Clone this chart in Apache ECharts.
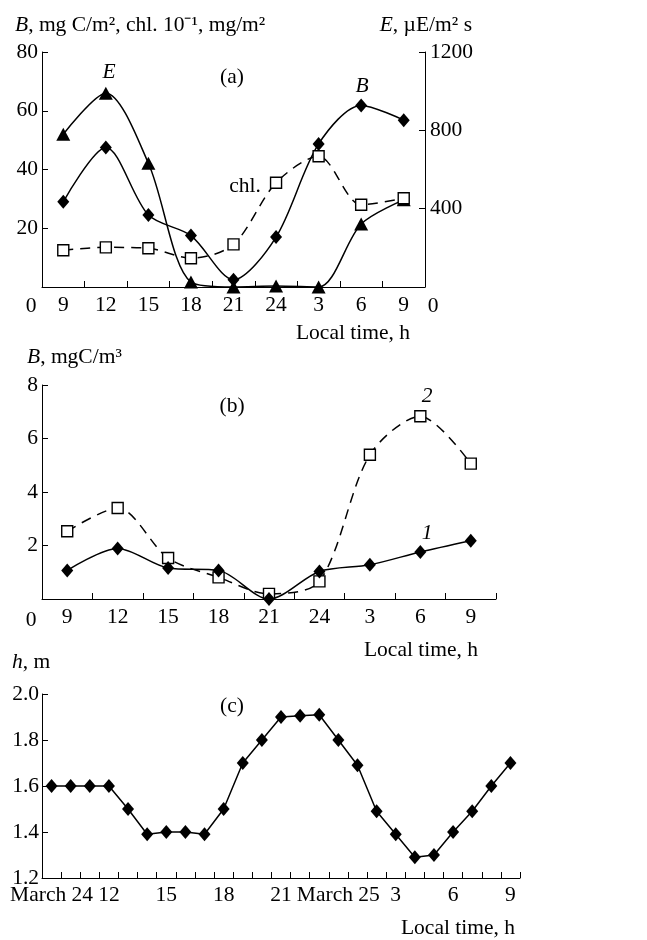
<!DOCTYPE html>
<html><head><meta charset="utf-8">
<script src="https://cdn.jsdelivr.net/npm/echarts@6/dist/echarts.min.js"></script>
<style>html,body{margin:0;padding:0;background:#fff}#c{width:647px;height:940px}</style>
</head><body><div id="c"></div>
<script>
// Panel (a)
const timesA = ['9','12','15','18','21','24','3','6','9'];
const biomassA = [29, 47.5, 24.5, 17.5, 2.5, 17, 48.7, 61.8, 56.8];
const lightA = [780, 990, 632, 25, 0, 5, 0, 322, 445];
const chlA = [12.5, 13.5, 13.2, 9.8, 14.5, 35.5, 44.5, 28, 30.2];
const yTicksA = [0, 20, 40, 60, 80];
const yTicksARight = [0, 400, 800, 1200];
// Panel (b)
const timesB = ['9','12','15','18','21','24','3','6','9'];
const biomass1B = [1.07, 1.89, 1.16, 1.07, 0, 1.03, 1.28, 1.76, 2.18];
const biomass2B = [2.53, 3.4, 1.53, 0.81, 0.19, 0.66, 5.39, 6.83, 5.06];
const yTicksB = [0, 2, 4, 6, 8];
// Panel (c)
const hoursC = ['9','10','11','12','13','14','15','16','17','18','19','20','21','22','23','24','1','2','3','4','5','6','7','8','9'];
const levelC = [1.6,1.6,1.6,1.6,1.5,1.39,1.4,1.4,1.39,1.5,1.7,1.8,1.9,1.905,1.91,1.8,1.69,1.49,1.39,1.29,1.3,1.4,1.49,1.6,1.7];
const tickLabelsC = ['March 24','12','15','18','21','March 25','3','6','9'];
const yTicksC = [1.2, 1.4, 1.6, 1.8, 2.0];

const FF = '"Liberation Serif", "Times New Roman", serif';
const FS = 21.5;
const black = '#000';

const chart = echarts.init(document.getElementById('c'), null, {renderer: 'canvas'});

const axisLineStyle = {show: true, lineStyle: {color: black, width: 1}};
const labelStyle = {color: black, fontFamily: FF, fontSize: FS};

function catAxis(gridIndex, data, extra) {
  return Object.assign({
    type: 'category', gridIndex, data: data.map((d, i) => String(i)), boundaryGap: true,
    axisLine: axisLineStyle,
    axisTick: {show: true, inside: true, length: 6, interval: 0, lineStyle: {color: black}},
    axisLabel: Object.assign({}, labelStyle, {interval: 0, margin: 7, formatter: (v, i) => data[i]}),
    splitLine: {show: false}
  }, extra || {});
}
function valAxis(gridIndex, ticks, extra) {
  return Object.assign({
    type: 'value', gridIndex, min: ticks[0], max: ticks[ticks.length - 1],
    interval: ticks[1] - ticks[0],
    axisLine: axisLineStyle,
    axisTick: {show: true, inside: true, length: 6, lineStyle: {color: black}},
    axisLabel: Object.assign({}, labelStyle, {margin: 4, formatter: v => (v === 0 ? '' : String(v))}),
    splitLine: {show: false}
  }, extra || {});
}

const diamond = {symbol: 'diamond', symbolSize: [12, 14], showAllSymbol: true, itemStyle: {color: black}};
const tri = {symbol: 'triangle', symbolSize: [14, 13], showAllSymbol: true, itemStyle: {color: black}};
const square = {symbol: 'rect', symbolSize: 11, showAllSymbol: true, itemStyle: {color: '#fff', borderColor: black, borderWidth: 1.4}};

function txt(x, y, text, align) {
  return {
    type: 'text', x, y, z: 100,
    style: {text, align: align || 'left', verticalAlign: 'middle', fill: black, fontFamily: FF, fontSize: FS}
  };
}
function rich(x, y, text, align) {
  return {
    type: 'text', x, y, z: 100,
    style: {text, align: align || 'left', verticalAlign: 'middle', fill: black,
      fontFamily: FF, fontSize: FS,
      rich: {
        i: {fontStyle: 'italic', fontFamily: FF, fontSize: FS, fill: black},
        n: {fontFamily: FF, fontSize: FS, fill: black}
      }}
  };
}

const option = {
  animation: false,
  backgroundColor: '#fff',
  grid: [
    {left: 42, top: 52, width: 383, height: 235},
    {left: 42, top: 385, width: 454, height: 214},
    {left: 42, top: 694, width: 478, height: 184}
  ],
  xAxis: [
    catAxis(0, timesA),
    catAxis(1, timesB),
    catAxis(2, hoursC, {
      axisLabel: Object.assign({}, labelStyle, {interval: 2, margin: 6, formatter: (v, i) => tickLabelsC[Math.round(i / 3)]})
    })
  ],
  yAxis: [
    valAxis(0, yTicksA),
    valAxis(0, yTicksARight, {position: 'right',
      axisLabel: Object.assign({}, labelStyle, {margin: 5, formatter: v => (v === 0 ? '' : String(v))})}),
    valAxis(1, yTicksB),
    valAxis(2, yTicksC, {axisLabel: Object.assign({}, labelStyle, {margin: 3, formatter: v => v.toFixed(1)})})
  ],
  series: [
    Object.assign({type: 'line', name: 'B', xAxisIndex: 0, yAxisIndex: 0, data: biomassA, smooth: 0.3, clip: false,
      lineStyle: {color: black, width: 1.5}}, diamond),
    Object.assign({type: 'line', name: 'E', xAxisIndex: 0, yAxisIndex: 1, data: lightA, smooth: 0.3, clip: false,
      lineStyle: {color: black, width: 1.5}}, tri),
    Object.assign({type: 'line', name: 'chl.', xAxisIndex: 0, yAxisIndex: 0, data: chlA, smooth: 0.3, clip: false,
      lineStyle: {color: black, width: 1.5, type: [10, 7]}}, square),
    Object.assign({type: 'line', name: '2', xAxisIndex: 1, yAxisIndex: 2, data: biomass2B, smooth: 0.3, clip: false,
      lineStyle: {color: black, width: 1.5, type: [10, 7]}}, square),
    Object.assign({type: 'line', name: '1', xAxisIndex: 1, yAxisIndex: 2, data: biomass1B, smooth: 0.3, clip: false,
      lineStyle: {color: black, width: 1.5}}, diamond),
    Object.assign({type: 'line', name: 'h', xAxisIndex: 2, yAxisIndex: 3, data: levelC, smooth: false, clip: false,
      lineStyle: {color: black, width: 1.5}}, diamond)
  ],
  graphic: [
    rich(15, 25, '{i|B}{n|, mg C/m², chl. 10⁻¹, mg/m²}'),
    rich(472, 25, '{i|E}{n|, µE/m² s}', 'right'),
    rich(109, 72, '{i|E}', 'center'),
    rich(362, 86, '{i|B}', 'center'),
    txt(232, 77, '(a)', 'center'),
    txt(245, 186, 'chl.', 'center'),
    txt(31, 306, '0', 'center'),
    txt(433, 306, '0', 'center'),
    txt(410, 333, 'Local time, h', 'right'),
    rich(27, 357, '{i|B}{n|, mgC/m³}'),
    txt(232, 406, '(b)', 'center'),
    rich(427, 396, '{i|2}', 'center'),
    rich(427, 533, '{i|1}', 'center'),
    txt(31, 620, '0', 'center'),
    txt(478, 650, 'Local time, h', 'right'),
    rich(12, 662, '{i|h}{n|, m}'),
    txt(232, 706, '(c)', 'center'),
    txt(515, 928, 'Local time, h', 'right')
  ]
};
chart.setOption(option);
</script>
</body></html>
